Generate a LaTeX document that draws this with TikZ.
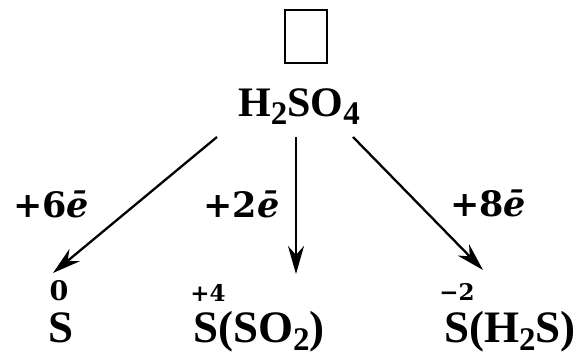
\documentclass[tikz,border=0pt]{standalone}
\usepackage{fontspec}
\setmainfont{Liberation Serif}
\newfontfamily\labfont{DejaVu Serif}
\usetikzlibrary{arrows.meta}
\newcommand\chsub[1]{\raisebox{-8pt}{\fontsize{33}{33}\selectfont #1}}
\newcommand\elec{\textit{\=e}}
\begin{document}
\begin{tikzpicture}[x=1pt,y=1pt,
  big/.style={font=\fontsize{42}{42}\selectfont\bfseries, inner sep=0pt},
  bot/.style={font=\fontsize{45}{45}\selectfont\bfseries, inner sep=0pt},
  ox/.style={font=\labfont\fontsize{23}{23}\selectfont\bfseries, inner sep=0pt},
  oxbig/.style={font=\labfont\fontsize{27}{27}\selectfont\bfseries, inner sep=0pt},
  lab/.style={font=\labfont\fontsize{35}{35}\selectfont\bfseries, inner sep=0pt},
  arr/.style={line width=2.3pt, -{Stealth[length=28pt,width=16pt,inset=9pt]}}]
\useasboundingbox (0,0) rectangle (584,358);
\node[draw, line width=2.5pt, minimum width=42pt, minimum height=53pt, inner sep=0pt] (box) at (306,321.5) {};
\node[big, anchor=base] (acid) at (299,241) {H\chsub{2}SO\chsub{4}};
\coordinate (a1) at (217,221);
\coordinate (a2) at (296,221);
\coordinate (a3) at (353,221);
\coordinate (t1) at (53,85);
\coordinate (t2) at (296,84);
\coordinate (t3) at (483,88);
\draw[arr] (a1) -- (t1);
\draw[arr] (a2) -- (t2);
\draw[arr] (a3) -- (t3);
\node[lab, anchor=base] (l1) at (51,140) {+6\elec};
\node[lab, anchor=base] (l2) at (241.5,140) {+2\elec};
\node[lab, anchor=base] (l3) at (488,141) {+8\elec};
\node[oxbig, anchor=base] (o1) at (59,57) {0};
\node[ox, anchor=base] (o2) at (208,56) {+4};
\node[ox, anchor=base] (o3) at (457,57) {\textminus2};
\node[bot, anchor=base] (s1) at (61,15) {S};
\node[bot, anchor=base west] (s2) at (193,15) {S(SO\chsub{2})};
\node[bot, anchor=base west] (s3) at (444,15) {S(H\chsub{2}S)};
\end{tikzpicture}
\end{document}
